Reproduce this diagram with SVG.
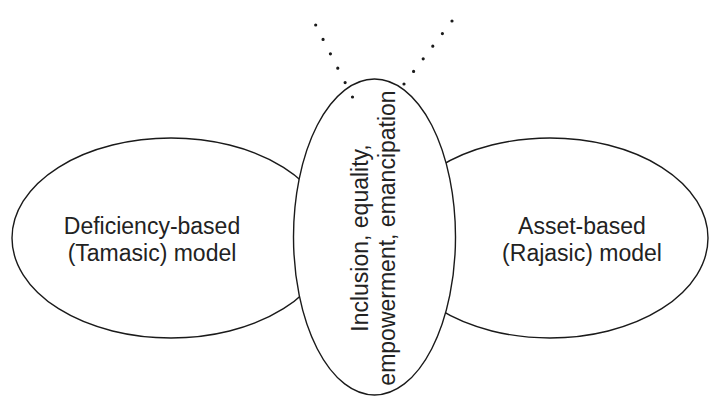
<svg xmlns="http://www.w3.org/2000/svg" width="710" height="398" viewBox="0 0 710 398">
  <style>
    .shape { fill: #ffffff; stroke: #1a1a1a; stroke-width: 1.4; }
    .label { font-family: "Liberation Sans", Arial, sans-serif; font-size: 23px; fill: #222222; text-anchor: middle; }
    .dots { fill: none; stroke: #1a1a1a; stroke-width: 3.2; stroke-linecap: round; }
  </style>
  <rect width="710" height="398" fill="#ffffff"/>

  <!-- Left wing -->
  <g id="deficiency-model">
    <ellipse class="shape" cx="171" cy="238" rx="159" ry="100"/>
    <text class="label" x="152" y="234">Deficiency-based</text>
    <text class="label" x="152" y="261">(Tamasic) model</text>
  </g>

  <!-- Right wing -->
  <g id="asset-model">
    <ellipse class="shape" cx="550" cy="238" rx="158" ry="100"/>
    <text class="label" x="582" y="234">Asset-based</text>
    <text class="label" x="582" y="261">(Rajasic) model</text>
  </g>

  <!-- Body -->
  <g id="inclusion">
    <ellipse class="shape" cx="374.5" cy="237" rx="81" ry="158"/>
    <g transform="translate(0,238) rotate(-90)">
      <text class="label" x="0" y="368">Inclusion, equality,</text>
      <text class="label" x="0" y="395">empowerment, emancipation</text>
    </g>
  </g>

  <!-- Antennae -->
  <g id="connectors">
    <line class="dots" x1="315.7" y1="25" x2="352.5" y2="97" stroke-dasharray="0 16.17"/>
    <line class="dots" x1="452" y1="21" x2="404" y2="84" stroke-dasharray="0 15.84"/>
  </g>
</svg>
